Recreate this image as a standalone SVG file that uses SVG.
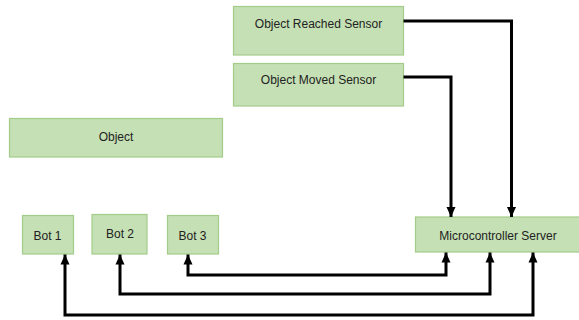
<svg xmlns="http://www.w3.org/2000/svg" width="579" height="320" viewBox="0 0 579 320">
<defs>
<style>
.box{fill:#C5E0B4;stroke:#A3CC8A;stroke-width:1.2}
.lbl{font-family:"Liberation Sans",Arial,sans-serif;font-size:12px;fill:#222;text-anchor:middle}
.wire{fill:none;stroke:#000;stroke-width:3;stroke-linejoin:miter}
</style>
<marker id="ah" markerUnits="userSpaceOnUse" markerWidth="10" markerHeight="11" viewBox="0 0 10 11" refX="10" refY="5" orient="auto-start-reverse">
<path d="M0,0.5 L10,5 L0,9.5 z" fill="#000"/>
</marker>
</defs>
<rect width="579" height="320" fill="#fff"/>
<g id="reached-sensor"><rect class="box" x="233.5" y="6.5" width="170" height="48.5"/><text class="lbl" x="318.5" y="28">Object Reached Sensor</text></g>
<g id="moved-sensor"><rect class="box" x="233.5" y="63.5" width="170" height="42.5"/><text class="lbl" x="318.5" y="84">Object Moved Sensor</text></g>
<g id="object"><rect class="box" x="9.5" y="118.5" width="213" height="38.5"/><text class="lbl" x="116" y="141">Object</text></g>
<g id="bot1"><rect class="box" x="22.5" y="215.5" width="51" height="38.5"/><text class="lbl" x="47.5" y="240">Bot 1</text></g>
<g id="bot2"><rect class="box" x="92" y="214.5" width="55" height="39.5"/><text class="lbl" x="120" y="238">Bot 2</text></g>
<g id="bot3"><rect class="box" x="167.5" y="215.5" width="51" height="38.5"/><text class="lbl" x="192.5" y="240">Bot 3</text></g>
<g id="server"><rect class="box" x="415.5" y="217" width="165" height="35"/><text class="lbl" x="498" y="240">Microcontroller Server</text></g>
<g id="connectors">
<path class="wire" d="M403.5,21 H511.5 V217" marker-end="url(#ah)"/>
<path class="wire" d="M403.5,77 H451 V217" marker-end="url(#ah)"/>
<path class="wire" d="M446,252.5 V275 H188 V254.5" marker-start="url(#ah)" marker-end="url(#ah)"/>
<path class="wire" d="M490,252.5 V294 H120 V254.5" marker-start="url(#ah)" marker-end="url(#ah)"/>
<path class="wire" d="M533,252.5 V315 H65 V254.5" marker-start="url(#ah)" marker-end="url(#ah)"/>
</g>
</svg>
